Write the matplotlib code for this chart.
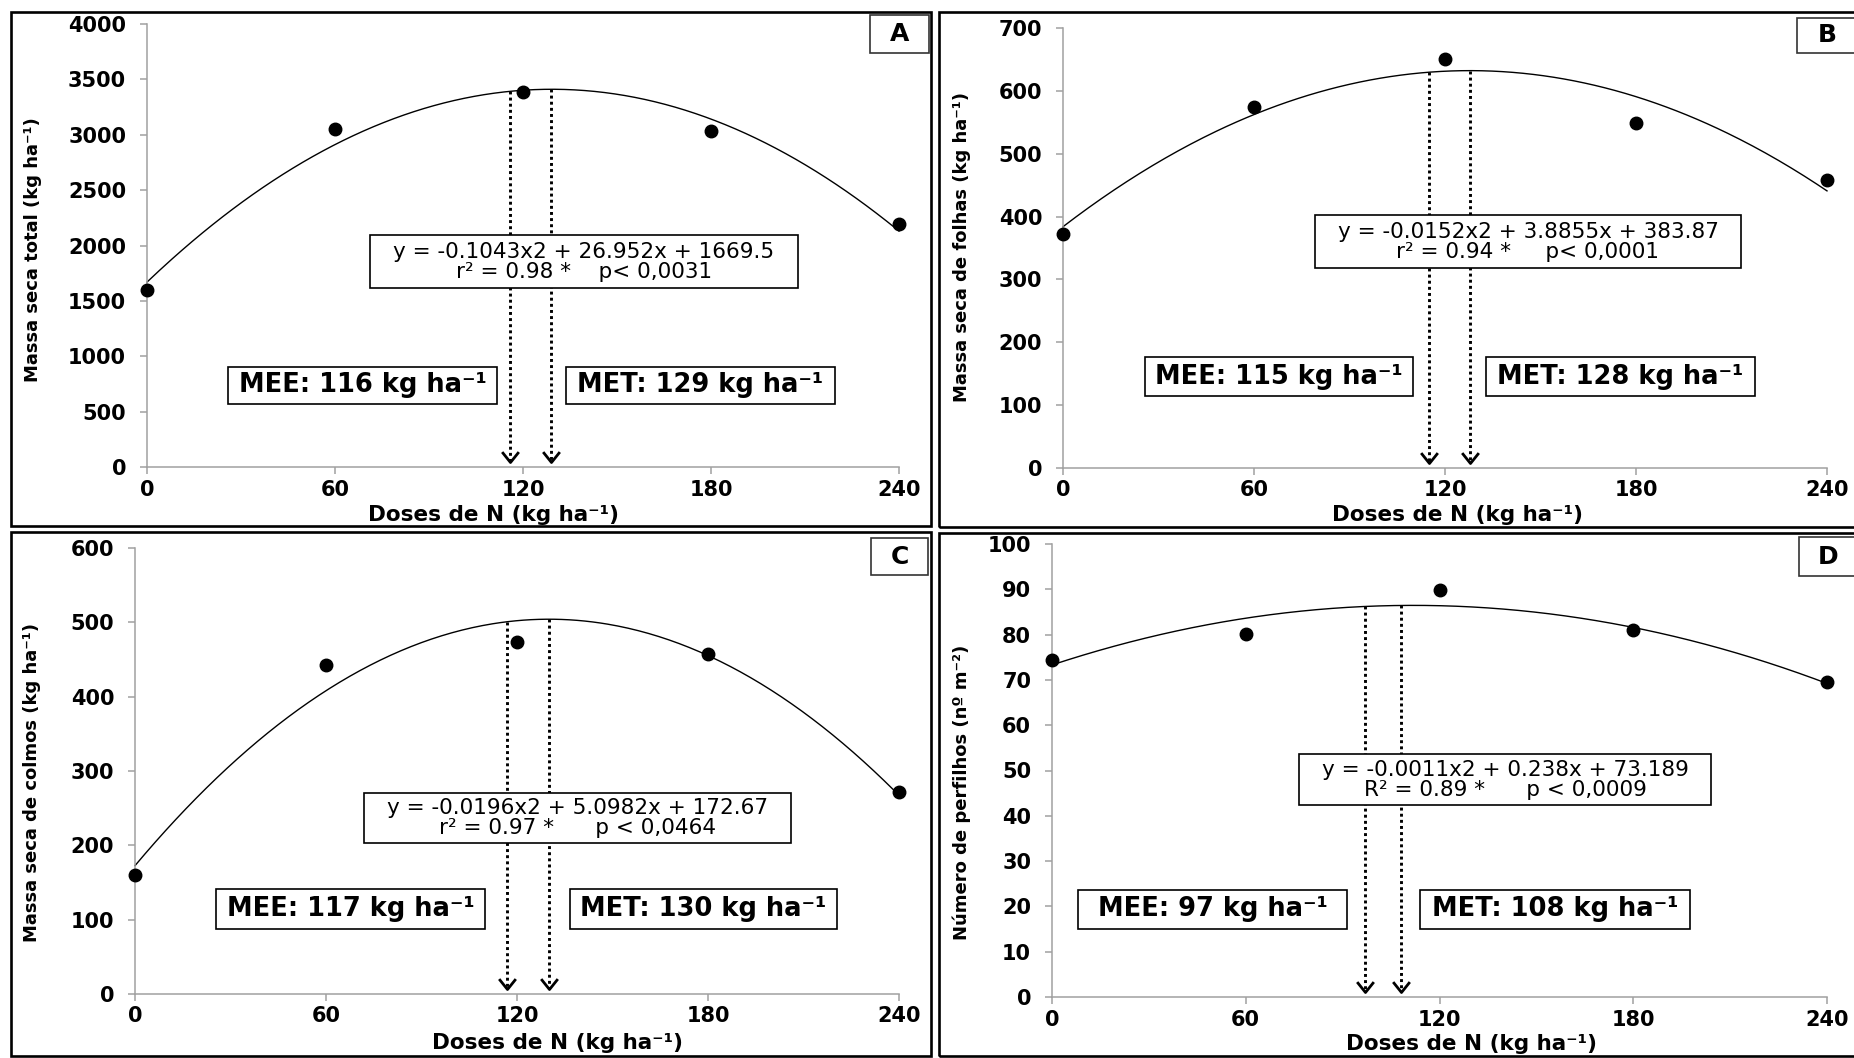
import numpy as np
import matplotlib
matplotlib.use("Agg")
import matplotlib.pyplot as plt
from matplotlib.patches import Rectangle
from matplotlib.path import Path

# ---- data ----
doses = [0, 60, 120, 180, 240]

massa_total = [1600, 3055, 3385, 3030, 2195]
massa_folhas = [372, 574, 651, 549, 458]
massa_colmos = [160, 443, 474, 458, 272]
perfilhos = [74.3, 80.1, 89.8, 81.0, 69.5]

# quadratic trend lines as drawn (a, b, c); A-C follow the printed equations,
# D is read off the drawn curve (the printed coefficients are rounded)
coef_total = [-0.1043, 26.952, 1669.5]
coef_folhas = [-0.0152, 3.8855, 383.87]
coef_colmos = [-0.0196, 5.0982, 172.67]
coef_perfilhos = [-0.00105, 0.235, 73.3]

mee = [116, 115, 117, 97]
met = [129, 128, 130, 108]

eq_texts = [
    "y = -0.1043x2 + 26.952x + 1669.5\nr² = 0.98 *    p< 0,0031",
    "y = -0.0152x2 + 3.8855x + 383.87\nr² = 0.94 *     p< 0,0001",
    "y = -0.0196x2 + 5.0982x + 172.67\nr² = 0.97 *      p < 0,0464",
    "y = -0.0011x2 + 0.238x + 73.189\nR² = 0.89 *      p < 0,0009",
]
ylabels = [
    "Massa seca total (kg ha⁻¹)",
    "Massa seca de folhas (kg ha⁻¹)",
    "Massa seca de colmos (kg ha⁻¹)",
    "Número de perfilhos (nº m⁻²)",
]
xlabel = "Doses de N (kg ha⁻¹)"
letters = ["A", "B", "C", "D"]
ymax = [4000, 700, 600, 100]
ystep = [500, 100, 100, 10]

series = [massa_total, massa_folhas, massa_colmos, perfilhos]
coefs = [coef_total, coef_folhas, coef_colmos, coef_perfilhos]

# ---- layout in pixels of the 1854x1058 canvas ----
W, H = 1854, 1058
axes_px = [(147, 24, 899, 467), (1063, 28, 1827, 468),
           (135, 548, 899, 994), (1052, 544, 1827, 997)]
frame_px = [(11, 12, 931, 526), (939, 12, 1857, 527),
            (11, 532, 931, 1056), (939, 533, 1857, 1056)]
letter_px = [(870, 15, 929, 53), (1797, 18, 1858, 53),
             (871, 538, 928, 575), (1799, 537, 1858, 576)]
eq_px = [(370, 235, 798, 288), (1315, 215, 1741, 268),
         (364, 793, 791, 843), (1299, 754, 1711, 805)]
mee_px = [(228, 367, 497, 404), (1145, 357, 1413, 396),
          (216, 889, 485, 929), (1078, 890, 1347, 929)]
met_px = [(566, 367, 835, 404), (1486, 357, 1755, 396),
          (570, 889, 837, 929), (1420, 890, 1690, 929)]
ylab_px = [(33, 250), (962, 247), (32, 782), (962, 792)]
xlab_px = [(494, 521), (1458, 521), (557, 1049), (1472, 1050)]

plt.rcParams["font.family"] = ["DejaVu Sans"]
fig = plt.figure(figsize=(W / 100, H / 100), dpi=100)

spine_col = "#a0a0a0"
chevron = Path([(-0.8, 1), (0, 0), (0.8, 1)],
               [Path.MOVETO, Path.LINETO, Path.LINETO])


def fig_rect(box, **kw):
    x0, y0, x1, y1 = box
    fig.add_artist(Rectangle((x0 / W, 1 - y1 / H), (x1 - x0) / W, (y1 - y0) / H,
                             transform=fig.transFigure, **kw))


def fig_box_text(box, s, **kw):
    x0, y0, x1, y1 = box
    fig_rect(box, facecolor="white", edgecolor="black", lw=1.2, zorder=5)
    fig.text((x0 + x1) / 2 / W, 1 - (y0 + y1) / 2 / H, s, ha="center",
             va="center", zorder=6, **kw)


for i in range(4):
    x0, y0, x1, y1 = axes_px[i]
    ax = fig.add_axes([x0 / W, 1 - y1 / H, (x1 - x0) / W, (y1 - y0) / H])

    xs = np.linspace(0, 240, 300)
    ax.plot(xs, np.polyval(coefs[i], xs), color="black", lw=1.0, clip_on=False)
    ax.plot(doses, series[i], "o", color="black", ms=9, clip_on=False, zorder=4)

    tip = ymax[i] * 0.012
    for xv in (mee[i], met[i]):
        ax.plot([xv, xv], [np.polyval(coefs[i], xv), tip], color="black",
                lw=2.1, ls=(0, (1, 1.1)), dash_capstyle="butt")
        ax.plot([xv], [tip], marker=chevron, ms=15, mfc="none", mec="black",
                mew=2.0, clip_on=False)

    ax.set_xlim(0, 240)
    ax.set_ylim(0, ymax[i])
    ax.set_xticks(doses)
    ax.set_yticks(np.arange(0, ymax[i] + ystep[i] / 2, ystep[i]))
    for s in ("top", "right"):
        ax.spines[s].set_visible(False)
    for s in ("left", "bottom"):
        ax.spines[s].set_color(spine_col)
        ax.spines[s].set_linewidth(1.1)
    ax.tick_params(axis="both", direction="out", length=5, width=1.1,
                   color=spine_col, labelsize=15)
    ax.tick_params(axis="y", pad=10)
    ax.tick_params(axis="x", pad=4)
    plt.setp(ax.get_xticklabels() + ax.get_yticklabels(), fontweight="bold")

    w, h = x1 - x0, y1 - y0
    ax.set_ylabel(ylabels[i], fontsize=13, fontweight="bold", va="center")
    lx, ly = ylab_px[i]
    ax.yaxis.set_label_coords((lx - x0) / w, (y1 - ly) / h)
    ax.set_xlabel(xlabel, fontsize=15.5, fontweight="bold", va="baseline")
    lx, ly = xlab_px[i]
    ax.xaxis.set_label_coords((lx - x0) / w, (y1 - ly) / h)

    # frames, boxes and labels
    fig_rect(frame_px[i], facecolor="none", edgecolor="black", lw=1.9, zorder=2)
    lb = letter_px[i]
    fig_rect(lb, facecolor="white", edgecolor="#333333", lw=1.2, zorder=5)
    fig.text((lb[0] + lb[2]) / 2 / W, 1 - (lb[1] + lb[3]) / 2 / H, letters[i],
             ha="center", va="center", fontsize=18, fontweight="bold", zorder=6)
    fig_box_text(eq_px[i], eq_texts[i], fontsize=15.5, linespacing=1.0)
    fig_box_text(mee_px[i], "MEE: %d kg ha⁻¹" % mee[i], fontsize=18.5,
                 fontweight="bold")
    fig_box_text(met_px[i], "MET: %d kg ha⁻¹" % met[i], fontsize=18.5,
                 fontweight="bold")

fig.savefig("out.png", dpi=100, facecolor="white")
